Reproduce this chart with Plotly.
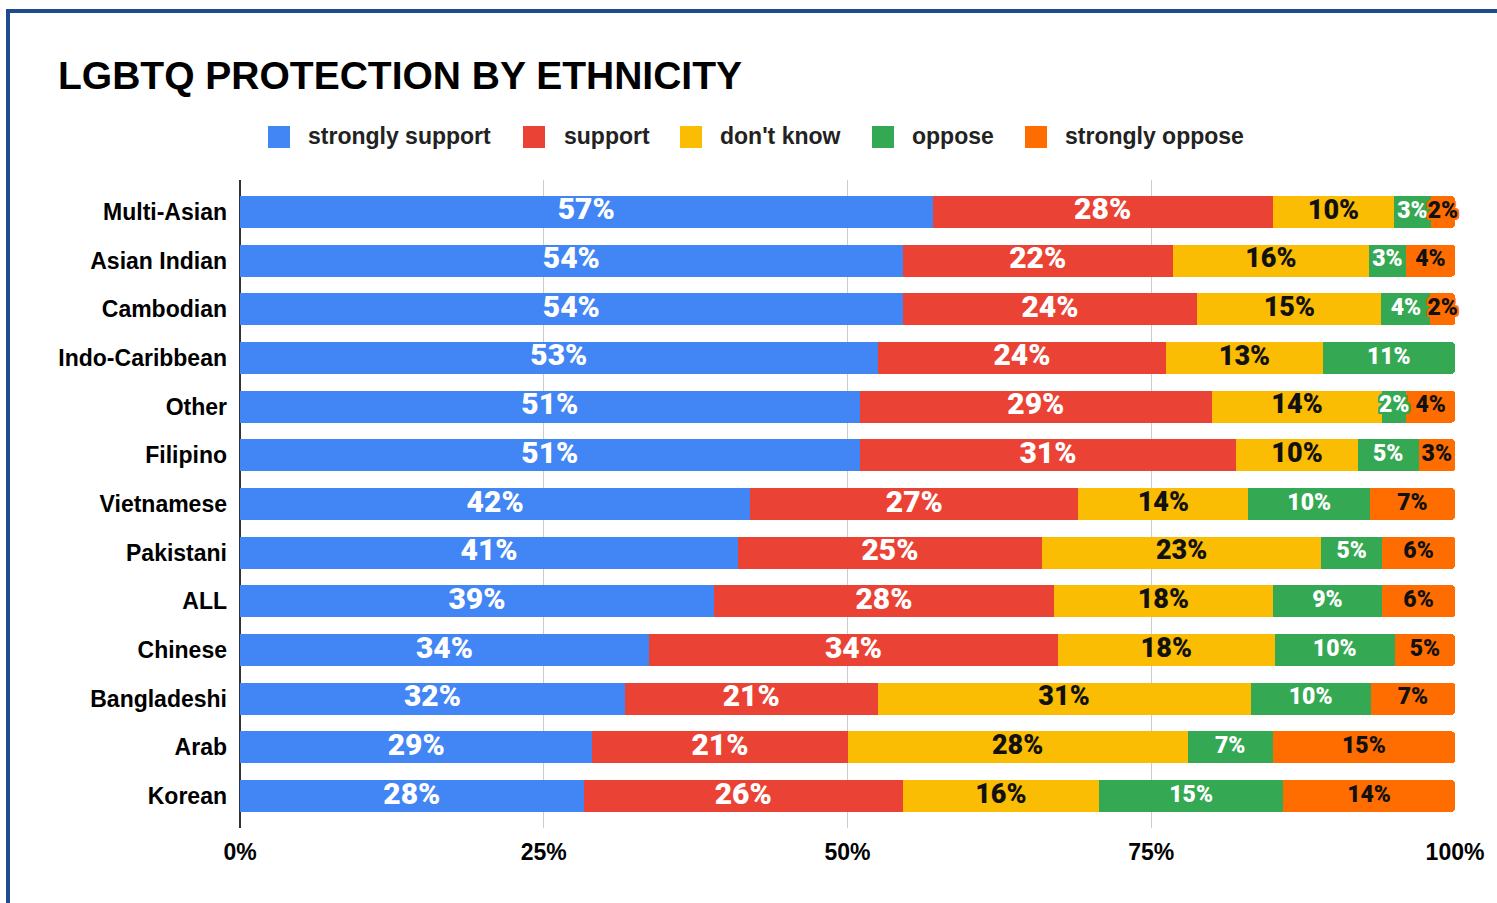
import plotly.graph_objects as go

# Survey responses by ethnicity (percent of respondents)
groups = ["Multi-Asian", "Asian Indian", "Cambodian", "Indo-Caribbean", "Other",
          "Filipino", "Vietnamese", "Pakistani", "ALL", "Chinese",
          "Bangladeshi", "Arab", "Korean"]
strongly_support = [57, 54, 54, 53, 51, 51, 42, 41, 39, 34, 32, 29, 28]
support = [28, 22, 24, 24, 29, 31, 27, 25, 28, 34, 21, 21, 26]
dont_know = [10, 16, 15, 13, 14, 10, 14, 23, 18, 18, 31, 28, 16]
oppose = [3, 3, 4, 11, 2, 5, 10, 5, 9, 10, 10, 7, 15]
strongly_oppose = [2, 4, 2, 0, 4, 3, 7, 6, 6, 5, 7, 15, 14]

series_names = ["strongly support", "support", "don't know", "oppose", "strongly oppose"]
series_values = [strongly_support, support, dont_know, oppose, strongly_oppose]
series_colors = ["#4285F4", "#EA4335", "#FBBC04", "#34A853", "#FF6D01"]
label_colors = ["#FFFFFF", "#FFFFFF", "#111111", "#FFFFFF", "#111111"]
label_sizes = [30, 30, 27, 23, 23]
tick_vals = [0, 25, 50, 75, 100]
tick_text = ["0%", "25%", "50%", "75%", "100%"]

W, H = 1497, 903
L, R, T, B = 240, 1455, 180, 828


def px_x(p):
    return (p - L) / (R - L)


def px_y(p):
    return (B - p) / (B - T)


fig = go.Figure()

# stacked bars, normalised so each row spans 0-100%
for name, vals, col in zip(series_names, series_values, series_colors):
    fig.add_trace(go.Bar(
        y=groups, x=vals, name=name, orientation="h",
        marker=dict(color=col, line=dict(width=0)),
        showlegend=False, hoverinfo="skip",
    ))

# value labels centred in each segment (allowed to overflow narrow segments)
row_totals = [sum(v[i] for v in series_values) for i in range(len(groups))]
cum = [0.0] * len(groups)
for vals, col, tcol, size in zip(series_values, series_colors, label_colors, label_sizes):
    xs, ys, txt = [], [], []
    for i, v in enumerate(vals):
        share = v / row_totals[i] * 100
        if v > 0:
            xs.append(cum[i] + share / 2)
            ys.append(groups[i])
            txt.append(f"{v}%")
        cum[i] += share
    halo = ", ".join(f"{dx}px {dy}px 0 {col}" for dx in (-2, 0, 2) for dy in (-2, 0, 2))
    fig.add_trace(go.Scatter(
        x=xs, y=ys, text=txt, mode="text", textposition="middle center",
        textfont=dict(family="Roboto", size=size, color=tcol, weight=900, shadow=halo),
        showlegend=False, hoverinfo="skip", cliponaxis=False,
    ))

shapes = []
annotations = []

# legend drawn as swatches plus labels
legend_swatch_x = [268, 523, 680, 872, 1025]
legend_text_x = [306, 562, 718, 910, 1063]
legend_cy = 137
for name, col, sx, tx in zip(series_names, series_colors, legend_swatch_x, legend_text_x):
    shapes.append(dict(
        type="rect", xref="paper", yref="paper",
        x0=px_x(sx), x1=px_x(sx + 22), y0=px_y(legend_cy + 11), y1=px_y(legend_cy - 11),
        fillcolor=col, line=dict(width=0), layer="above",
    ))
    annotations.append(dict(
        text=name, xref="paper", yref="paper", x=px_x(tx), y=px_y(legend_cy - 1),
        xanchor="left", yanchor="middle", showarrow=False,
        font=dict(family="Liberation Sans, Arial", size=23, color="#222222", weight="bold"),
    ))

# frame around the chart
shapes.append(dict(
    type="rect", xref="paper", yref="paper",
    x0=px_x(8), x1=px_x(1520), y0=px_y(930), y1=px_y(11),
    line=dict(color="#1F4B8E", width=4), fillcolor="rgba(0,0,0,0)", layer="above",
))

pad = 0.156
fig.update_layout(
    width=W, height=H,
    margin=dict(l=L, r=W - R, t=T, b=H - B, pad=0),
    paper_bgcolor="white", plot_bgcolor="white",
    barmode="stack", barnorm="percent", bargap=0.34, barcornerradius=4,
    title=dict(
        text="LGBTQ PROTECTION BY ETHNICITY",
        x=58 / W, xanchor="left", xref="container",
        y=1 - 75 / H, yanchor="middle", yref="container",
        font=dict(family="Liberation Sans, Arial", size=39, color="#000000", weight="bold"),
    ),
    xaxis=dict(
        range=[0, 100], tickvals=tick_vals, ticktext=tick_text,
        showgrid=True, gridcolor="#CCCCCC", gridwidth=1,
        zeroline=True, zerolinecolor="#333333", zerolinewidth=1.5,
        showline=False, ticks="", ticklabelstandoff=8,
        tickfont=dict(family="Liberation Sans Narrow, Liberation Sans, Arial", size=23,
                      color="#000000", weight="bold"),
        fixedrange=True,
    ),
    yaxis=dict(
        type="category", categoryorder="array", categoryarray=groups,
        range=[len(groups) - 1 + 0.5 + pad, -0.5 - pad],
        showgrid=False, zeroline=False, showline=False, ticks="",
        ticklabelstandoff=12,
        tickfont=dict(family="Liberation Sans, Arial", size=23, color="#000000", weight="bold"),
        fixedrange=True,
    ),
    shapes=shapes,
    annotations=annotations,
    showlegend=False,
)

fig.write_html("out.html")
